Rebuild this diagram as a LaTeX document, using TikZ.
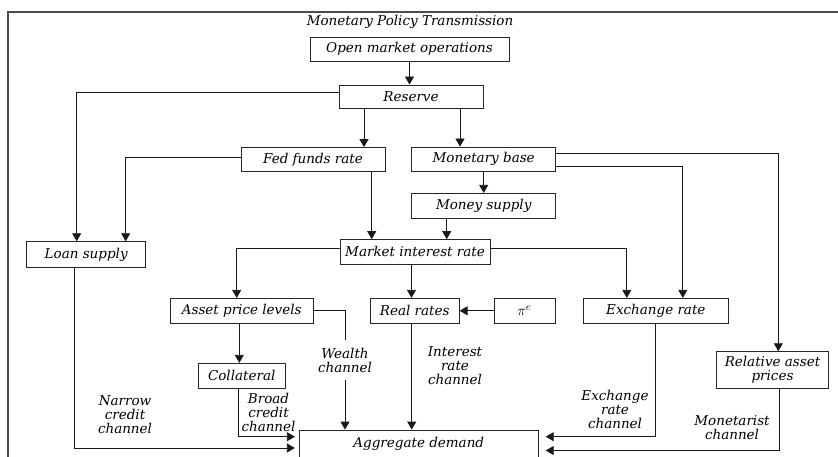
\documentclass[tikz,border=0pt]{standalone}
\usepackage{fontspec}
\setmainfont{DejaVu Serif}
\usetikzlibrary{arrows.meta,calc}
\tikzset{
 box/.style={draw=black!85, line width=0.8pt, inner sep=0pt, font=\fontsize{13.5}{14}\selectfont\itshape, align=center},
 arr/.style={-{Triangle[width=9pt,length=8pt]}, line width=0.8pt, black!90},
 ln/.style={line width=0.8pt, black!90},
 lab/.style={font=\fontsize{13.5}{14}\selectfont\itshape, align=center, inner sep=0pt},
}
\begin{document}
\begin{tikzpicture}[x=1pt,y=-1pt]
\useasboundingbox (0,0) rectangle (838,457);
\clip (0,0) rectangle (838,457);
\draw[black!70, line width=2pt] (8,12) rectangle (860,480);
\node[lab] (title) at (410,22) {Monetary Policy Transmission};
\node[box, minimum width=199pt, minimum height=24pt] (omo) at (409.5,49) {Open market operations};
\node[box, minimum width=144pt, minimum height=23pt] (reserve) at (411,96.5) {Reserve};
\node[box, minimum width=144pt, minimum height=24pt] (fed) at (313,159.5) {Fed funds rate};
\node[box, minimum width=144pt, minimum height=24pt] (mbase) at (483.7,159) {Monetary base};
\node[box, minimum width=144pt, minimum height=25pt] (msupply) at (483.7,205.8) {Money supply};
\node[box, minimum width=150pt, minimum height=24.5pt] (mir) at (415,251.8) {Market interest rate};
\node[box, minimum width=119pt, minimum height=25.6pt] (loan) at (86.2,254.5) {Loan supply};
\node[box, minimum width=143pt, minimum height=25pt] (asset) at (241.7,310.8) {Asset price levels};
\node[box, minimum width=89pt, minimum height=25pt] (real) at (414.7,310.8) {Real rates};
\node[box, minimum width=61pt, minimum height=25pt, font=\fontsize{15}{14}\selectfont] (pie) at (524.5,310.8) {$\pi^e$};
\node[box, minimum width=145pt, minimum height=25pt] (exch) at (655.8,310.8) {Exchange rate};
\node[box, minimum width=87pt, minimum height=25pt] (coll) at (241.7,375.8) {Collateral};
\node[box, minimum width=112pt, minimum height=36.6pt] (rel) at (772.5,370) {Relative asset\\prices};
\node[box, minimum width=239pt, minimum height=50pt, text depth=26pt] (agg) at (418.8,455) {Aggregate demand};
\node[lab, inner ysep=8pt] (wealth) at (345,360) {Wealth\\channel};
\node[lab] (narrow) at (125,415) {Narrow\\credit\\channel};
\node[lab] (broad) at (268.5,412) {Broad\\credit\\channel};
\node[lab] (interest) at (455,366) {Interest\\rate\\channel};
\node[lab] (exlab) at (615,409) {Exchange\\rate\\channel};
\node[lab] (monet) at (732,428) {Monetarist\\channel};
\draw[arr] (omo.south) -- (omo.south |- reserve.north);
\draw[arr] ([yshift=4pt]reserve.west) -| ([xshift=-9.5pt]loan.north);
\draw[arr] ([xshift=-47pt]reserve.south) -- ([xshift=-47pt]reserve.south |- fed.north);
\draw[arr] ([xshift=49pt]reserve.south) -- ([xshift=49pt]reserve.south |- mbase.north);
\draw[arr] ([yshift=2pt]fed.west) -| ([xshift=39.5pt]loan.north);
\draw[arr] ([xshift=58.7pt]fed.south) -- ([xshift=58.7pt]fed.south |- mir.north);
\draw[arr] (mbase.south) -- (msupply.north);
\draw[arr] ([yshift=6pt]mbase.east) -| ([xshift=5.8pt]rel.north);
\draw[arr] ([yshift=-7pt]mbase.east) -| ([xshift=27pt]exch.north);
\draw[arr] ([xshift=-37pt]msupply.south) -- ([xshift=-37pt]msupply.south |- mir.north);
\draw[arr] ([yshift=3pt]mir.west) -| ([xshift=-5pt]asset.north);
\draw[arr] ([xshift=-3.5pt]mir.south) -- ([xshift=-3.5pt]mir.south |- real.north);
\draw[arr] ([yshift=3.5pt]mir.east) -| ([xshift=-29pt]exch.north);
\draw[arr] (pie.west) -- (real.east);
\draw[ln] (asset.east) -| (wealth.north);
\draw[arr] (wealth.south) -- (wealth.south |- agg.north);
\draw[arr] ([xshift=-2.4pt]asset.south) -- ([xshift=-2.4pt]asset.south |- coll.north);
\draw[arr, shorten >=4pt] ([xshift=-3.4pt]coll.south) |- ([yshift=18.3pt]agg.west);
\draw[arr, shorten >=4pt] ([xshift=-12.2pt]loan.south) |- ([yshift=7pt]agg.west);
\draw[arr] ([xshift=-3pt]real.south) -- ([xshift=-3pt]real.south |- agg.north);
\draw[arr, shorten >=7pt] (exch.south) |- ([yshift=18.3pt]agg.east);
\draw[arr, shorten >=7pt] ([xshift=6.5pt]rel.south) |- ([yshift=4.5pt]agg.east);
\end{tikzpicture}
\end{document}
